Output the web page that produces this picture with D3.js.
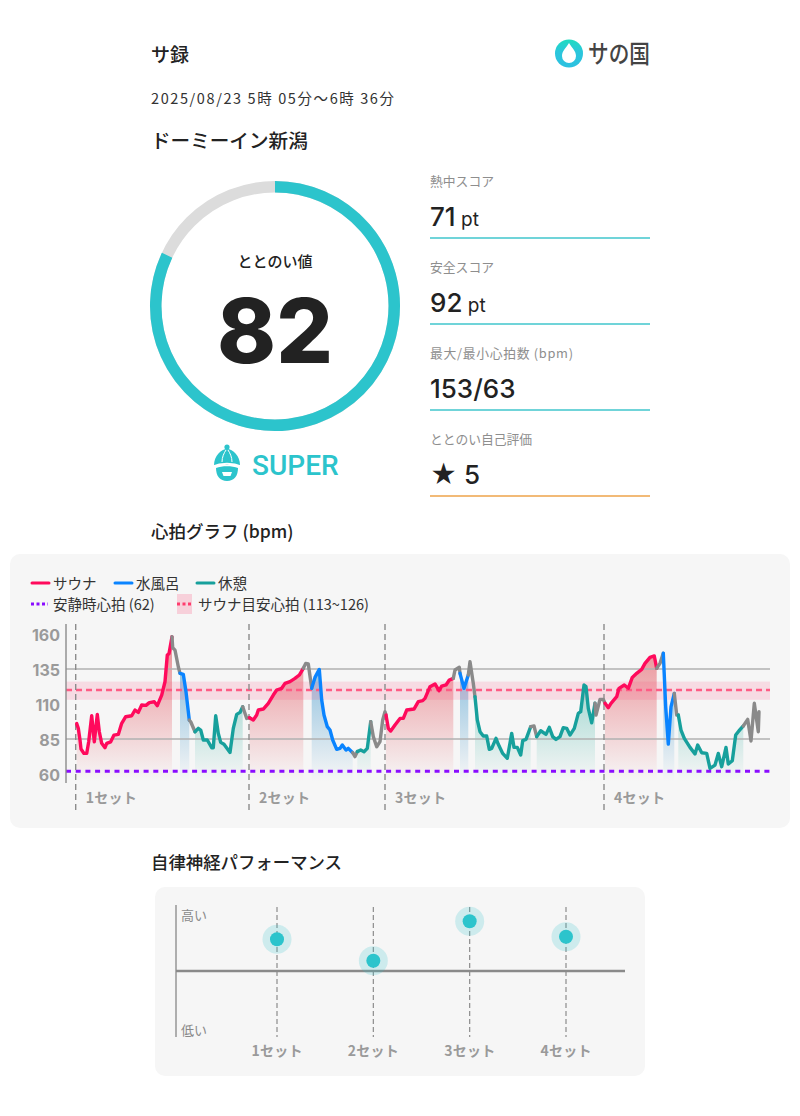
<!DOCTYPE html>
<html lang="ja">
<head>
<meta charset="utf-8">
<title>サ録</title>
<script src="https://cdn.jsdelivr.net/npm/d3@7/dist/d3.min.js"></script>
<style>
  html, body { margin: 0; padding: 0; background: #fff; }
  svg { display: block; }
  text { font-family: "Noto Sans CJK JP", "Noto Sans", sans-serif; }
</style>
</head>
<body>
<svg id="card" width="800" height="1116"></svg>
<script>
// Session summary
const ringScore = 82;
const scoreRows = [
  { label: "熱中スコア", value: "71", unit: " pt", labelWidth: 64 },
  { label: "安全スコア", value: "92", unit: " pt", labelWidth: 64 },
  { label: "最大/最小心拍数 (bpm)", value: "153/63", unit: "", labelWidth: 143 },
  { label: "ととのい自己評価", value: "★ 5", unit: "", labelWidth: 102 }
];

// Heart-rate trace: elapsed ticks and the bpm read at each tick
const heartTicks = [
  10.7,12.3,14,15,18,20.7,22.7,25.7,28.3,31.3,33.3,35.7,39,40.7,44.7,48,52.3,55.7,59.7,65.7,69,72.3,75.7,80,83.3,88.3,91.3,95.7,99,101.3,103,106,
  106.7,109,112.3,114,117.3,120,123.3,124.7,129,132.3,134.7,137.3,141.3,145.7,147.3,149.7,152.3,154.7,158,164,167.3,170.7,174,176.7,180.7,
  183.5,187.3,190.7,192.3,197.3,202.3,207.3,210.7,215.7,219,224,229,233.3,237.3,239.7,242.3,245.7,249,253.3,255.7,258,261.3,264,266.7,270.7,274,276.3,280,282.3,286.7,289,291.3,294.7,298,301.3,304.7,307.3,310.7,314,316.7,319,
  320,322.3,324.7,329,334,337.3,340.7,348,352.3,356.7,359,364,369,373,375.7,380,383.3,387.3,389,393.3,394,398,402.3,404,407.3,409,411.3,414,417.3,420.7,423.3,425.7,430,432.3,436.7,441.3,445.7,448,451.3,454.7,456.7,460,464.7,468,470.7,474.7,480,483.3,486.7,490,494,497.3,500.7,504,508.3,512.3,514.7,518,520,522.3,525.7,529,530,534,537.3,
  539,542.3,545,550.7,553,558.3,562.3,566.3,570.7,575.7,579,584,588.3,590.7,594,597.3,599.7,602.3,605,608.3,610.7,612.3,615,618.3,624,629,631.7,635.7,640.7,644,649,652.3,655.7,660,662.3,666.3,669.7,673,677.3,681.7,685,688.3,692.3,693
];
const heartBpm = [
  96,92.6,84.3,77.8,74.7,74.7,83,101.6,83,102.6,90.2,81.9,78.8,81.9,83,87.8,88.3,96.2,100.9,101.6,105.7,104,109.3,109,111,111.6,108.8,116.4,125.9,145,146,158,
  150.2,148.5,136.6,131.9,131.2,118.8,98.5,97.3,90.2,92.6,91.4,84.3,84.3,78.8,78.8,101.6,89,82.6,81.2,75.4,92.6,102.6,104,108,99.7,
  100.2,98.6,102.1,105.7,106.4,110.5,116.4,120,121.2,124.7,126,128.3,130.7,135.5,139,138.6,121.2,129,134.7,112.8,102.1,93.8,91.4,84.3,77.6,78.3,80.7,77.1,78.3,75.2,72.4,76,77.1,75.9,78.3,97.4,86.7,79.5,83.1,98.6,104.5,
  102.1,92.6,90.7,95,99.7,99.7,105.7,106.4,111.7,112.4,114,122.4,124.3,119.5,122.8,123.6,127.1,128.3,134.3,136.2,131.9,121.2,130.7,140.2,124.7,115.2,98.6,90.2,87.1,87.1,77.6,78.3,85.5,81.2,74.7,71.2,89,79,79,73.6,83.8,84.7,93.8,94.3,86.7,90.9,88.3,93.3,86.7,84.7,86.7,93.1,92.6,87.8,92.6,103.3,104.5,123.6,122.4,106.9,96.6,110.5,102.1,113.3,113.3,
  110.5,107.4,110.5,115.2,121.2,123.6,121.2,129,131.9,134.7,139,143.3,144.3,135.5,139,146.2,108,81.4,108,117.6,102.1,102.1,91.4,85.5,79,74.3,80.7,75.2,74.7,64,66.4,74.7,65.2,79,67.1,69.5,87.8,90.9,94.3,99,83.6,110.5,90.2,104.5
];

// Phase changes along the trace: the tick where each phase begins
const phaseTicks = [10.7,106,114,123.3,129,176.7,183.5,237.3,245.7,286.7,291.3,304.7,320,387.3,394,402.3,409,464.7,470.7,529,539,590.7,597.3,608.3,612.3,677.3];
const phaseNames = ["sauna","idle","water","idle","rest","idle","sauna","idle","water","idle","rest","idle","sauna","idle","water","idle","rest","idle","rest","idle","sauna","idle","water","idle","rest","idle"];
const setTicks = [9.7, 183, 319, 538];
const setNames = ["1セット", "2セット", "3セット", "4セット"];
const bpmTicks = [160, 135, 110, 85, 60];
const gridBpm = [135, 85];
const restingBpm = 62;
const targetLow = 113;
const targetHigh = 126;
const target = 120;

// Autonomic performance per set
const performance = [53, 17, 83, 57];

const phaseColor = { sauna: "#ff0a5c", water: "#0a84ff", rest: "#17a09c", idle: "#8a8a8a" };
const phaseFill = { sauna: "#e2444f", water: "#1f86c4", rest: "#27ab9a" };
const teal = "#2cc4cc";
const grayText = "#8e8e8e";
const ink = "#222";

const svg = d3.select("#card");
const defs = svg.append("defs");

function label(parent, x, y, str, size, weight, fill, anchor) {
  return parent.append("text")
    .attr("x", x).attr("y", y)
    .attr("dy", "0.4em")
    .attr("font-size", size)
    .attr("font-weight", weight || 400)
    .attr("fill", fill || ink)
    .attr("text-anchor", anchor || "start")
    .text(str);
}

// Header
label(svg, 151, 54, "サ録", 19, 500);
label(svg, 151, 98, "2025/08/23 5時 05分〜6時 36分", 14.5, 400, "#333").attr("textLength", 243);
label(svg, 151, 140, "ドーミーイン新潟", 19.6, 500);

// Brand mark
const brandGrad = defs.append("linearGradient").attr("id", "brand").attr("x1", 0.5).attr("y1", 0).attr("x2", 0.5).attr("y2", 1);
brandGrad.append("stop").attr("offset", 0).attr("stop-color", "#1edcc0");
brandGrad.append("stop").attr("offset", 0.45).attr("stop-color", "#2bc6dc");
brandGrad.append("stop").attr("offset", 1).attr("stop-color", "#2cc0e0");
svg.append("circle").attr("cx", 569).attr("cy", 53.5).attr("r", 14).attr("fill", "url(#brand)");
svg.append("path").attr("d", "M569 43 C572 48 576 51 576 56 A7 7 0 0 1 562 56 C562 51 566 48 569 43 Z").attr("fill", "#fff");
label(svg, 588, 53, "サの国", 25, 500, "#444").attr("textLength", 62).attr("lengthAdjust", "spacingAndGlyphs");

// Score ring: centre-line arcs with round caps
const ring = svg.append("g").attr("transform", "translate(275,306)");
const ringScale = d3.scaleLinear().domain([0, 100]).range([0, 2 * Math.PI]);
const ringArc = d3.arc().innerRadius(119.25).outerRadius(119.25);
ring.append("path").attr("d", ringArc({ startAngle: 0, endAngle: 2 * Math.PI }))
  .attr("fill", "none").attr("stroke", "#dcdcdc").attr("stroke-width", 11.5);
ring.append("path").attr("d", ringArc({ startAngle: ringScale(0), endAngle: ringScale(ringScore) }))
  .attr("fill", "none").attr("stroke", teal).attr("stroke-width", 11.5).attr("stroke-linecap", "round");
label(ring, 0, -45, "ととのい値", 15, 500, ink, "middle");
label(ring, 0, 21, String(ringScore), 89, 800, ink, "middle").style("font-family", "Inter, sans-serif");

// Rank badge: hat with a face beneath the brim
const badge = svg.append("g").attr("transform", "translate(227,464)").attr("fill", teal);
badge.append("circle").attr("cx", 0).attr("cy", -17).attr("r", 2.6);
badge.append("path").attr("d", "M-13 1 C-13 -8 -6 -15 0 -15 C6 -15 13 -8 13 1 Z");
badge.append("path").attr("d", "M-5 -2 C-5 -7 -3 -11 -1 -14 M5 -2 C5 -7 3 -11 1 -14").attr("fill", "none").attr("stroke", "#fff").attr("stroke-width", 1);
badge.append("path").attr("d", "M-15.5 3 Q0 -3.5 15.5 3").attr("fill", "none").attr("stroke", "#fff").attr("stroke-width", 2);
badge.append("path").attr("d", "M-11 4 C-5 1.5 5 1.5 11 4 C11 12 7 17 0 17 C-7 17 -11 12 -11 4 Z");
badge.append("path").attr("d", "M-5 8 L5 8 L3.5 12 L-3.5 12 Z").attr("fill", "#fff");
label(svg, 252, 464, "SUPER", 28, 500, teal).style("font-family", "Roboto, sans-serif");

// Score column
const rowY = d3.scalePoint().domain(d3.range(scoreRows.length)).range([181, 439]);
scoreRows.forEach((row, i) => {
  const y = rowY(i);
  label(svg, 430, y, row.label, 12.8, 400, grayText).attr("textLength", row.labelWidth);
  const value = label(svg, 430, y + 35, row.value, 26, 500, ink).style("font-family", "Inter, 'Noto Sans CJK JP', sans-serif");
  if (row.unit) value.append("tspan").attr("font-size", 19).attr("font-weight", 400).text(row.unit);
  svg.append("line").attr("x1", 430).attr("x2", 650).attr("y1", y + 57).attr("y2", y + 57)
    .attr("stroke", i === 3 ? "#eea34a" : "#41c6cc").attr("stroke-width", 1.6);
});

// Heart-rate panel
label(svg, 151, 531, "心拍グラフ (bpm)", 17.5, 500);
svg.append("rect").attr("x", 10).attr("y", 554).attr("width", 780).attr("height", 274).attr("rx", 10).attr("fill", "#f6f6f6");

const swatch = (x, y, color, dash, w) => svg.append("line")
  .attr("x1", x).attr("x2", x + (w || 17)).attr("y1", y).attr("y2", y)
  .attr("stroke", color).attr("stroke-width", 3)
  .attr("stroke-linecap", dash ? "butt" : "round")
  .attr("stroke-dasharray", dash || null);
swatch(32, 583, phaseColor.sauna);
label(svg, 53, 583, "サウナ", 14.5, 400, "#333");
swatch(115, 583, phaseColor.water);
label(svg, 136, 583, "水風呂", 14.5, 400, "#333");
swatch(197, 583, phaseColor.rest);
label(svg, 218, 583, "休憩", 14.5, 400, "#333");
swatch(31, 604, "#8a0cff", "3 2.5");
label(svg, 53, 604, "安静時心拍 (62)", 14.5, 400, "#333");
svg.append("rect").attr("x", 177).attr("y", 594).attr("width", 15).attr("height", 20).attr("fill", "#ff3c6e").attr("opacity", 0.2);
swatch(177, 604, "#ff3c6e", "3 2.5", 15);
label(svg, 198, 604, "サウナ目安心拍 (113~126)", 14.5, 400, "#333");

const x = d3.scaleLinear().domain([0, 704]).range([66, 770]);
const y = d3.scaleLinear().domain([60, 160]).range([774, 634]);
const trace = heartTicks.map((t, i) => ({ t, bpm: heartBpm[i] }));

// Split the trace into phase runs sharing their boundary samples
const runs = phaseTicks.map((start, i) => {
  const end = i + 1 < phaseTicks.length ? phaseTicks[i + 1] : Infinity;
  return { phase: phaseNames[i], points: trace.filter(d => d.t >= start && d.t <= end) };
});

const plot = svg.append("g");

// Vertical gradients that fade each phase area out below the resting line
Object.entries(phaseFill).forEach(([phase, color]) => {
  const g = defs.append("linearGradient").attr("id", "fade-" + phase)
    .attr("gradientUnits", "userSpaceOnUse").attr("x1", 0).attr("x2", 0)
    .attr("y1", y(150)).attr("y2", y(55));
  g.append("stop").attr("offset", 0).attr("stop-color", color).attr("stop-opacity", 0.55);
  g.append("stop").attr("offset", 0.35).attr("stop-color", color).attr("stop-opacity", 0.36);
  g.append("stop").attr("offset", 1).attr("stop-color", color).attr("stop-opacity", 0);
});

const area = d3.area().x(d => x(d.t)).y0(y(55)).y1(d => y(d.bpm));
plot.selectAll("path.fill").data(runs.filter(r => r.phase !== "idle")).join("path")
  .attr("class", "fill")
  .attr("d", r => area(r.points))
  .attr("fill", r => `url(#fade-${r.phase})`);

// Target band, grid lines and reference lines
plot.append("rect")
  .attr("x", x(0)).attr("width", x(704) - x(0))
  .attr("y", y(targetHigh)).attr("height", y(targetLow) - y(targetHigh))
  .attr("fill", "#ff3c6e").attr("opacity", 0.14);
plot.selectAll("line.grid").data(gridBpm).join("line")
  .attr("class", "grid")
  .attr("x1", x(0)).attr("x2", x(704))
  .attr("y1", d => y(d)).attr("y2", d => y(d))
  .attr("stroke", "#b0b0b0").attr("stroke-width", 1.4);
plot.append("line")
  .attr("x1", x(0)).attr("x2", x(704)).attr("y1", y(target)).attr("y2", y(target))
  .attr("stroke", "#ff5c85").attr("stroke-width", 2.5).attr("stroke-dasharray", "6 4");
plot.append("line")
  .attr("x1", x(0)).attr("x2", x(704)).attr("y1", y(restingBpm)).attr("y2", y(restingBpm))
  .attr("stroke", "#8a0cff").attr("stroke-width", 3).attr("stroke-dasharray", "5 4.7");

// Set markers
plot.selectAll("line.set").data(setTicks).join("line")
  .attr("class", "set")
  .attr("x1", d => x(d)).attr("x2", d => x(d)).attr("y1", 624).attr("y2", 810)
  .attr("stroke", "#8c8c8c").attr("stroke-width", 1.4).attr("stroke-dasharray", "6 4");
setTicks.forEach((t, i) => {
  const tx = x(t);
  label(plot, tx + 10, 797, setNames[i], 14, 700, "#9a9a9a").attr("textLength", 51);
});

// Phase-coloured line
const line = d3.line().x(d => x(d.t)).y(d => y(d.bpm)).curve(d3.curveLinear);
plot.selectAll("path.run").data(runs).join("path")
  .attr("class", "run")
  .attr("d", r => line(r.points))
  .attr("fill", "none")
  .attr("stroke", r => phaseColor[r.phase])
  .attr("stroke-width", 3.4)
  .attr("stroke-linejoin", "round")
  .attr("stroke-linecap", "round");

// bpm axis
const yAxis = svg.append("g").attr("transform", `translate(${x(0)},0)`)
  .call(d3.axisLeft(y).tickValues(bpmTicks).tickSize(0).tickPadding(6));
yAxis.select(".domain").remove();
yAxis.selectAll("text").attr("font-size", 16).attr("font-weight", 700).attr("fill", "#9a9a9a")
  .attr("dy", "0.38em").style("font-family", "Inter, sans-serif");
svg.append("line").attr("x1", x(0)).attr("x2", x(0)).attr("y1", 624).attr("y2", 783)
  .attr("stroke", "#8c8c8c").attr("stroke-width", 1.4);

// Autonomic performance panel
label(svg, 151, 862, "自律神経パフォーマンス", 17.4, 500);
svg.append("rect").attr("x", 155).attr("y", 887).attr("width", 490).attr("height", 189).attr("rx", 10).attr("fill", "#f6f6f6");

const px = d3.scalePoint().domain(setNames).range([277, 566]);
const py = d3.scaleLinear().domain([-100, 100]).range([1031, 911]);

svg.append("line").attr("x1", 176).attr("x2", 176).attr("y1", 905).attr("y2", 1037)
  .attr("stroke", "#909090").attr("stroke-width", 1.4);
svg.selectAll("line.perf").data(setNames).join("line")
  .attr("class", "perf")
  .attr("x1", d => px(d)).attr("x2", d => px(d)).attr("y1", 907).attr("y2", 1037)
  .attr("stroke", "#8c8c8c").attr("stroke-width", 1.2).attr("stroke-dasharray", "5 3");
svg.append("line").attr("x1", 176).attr("x2", 625).attr("y1", py(0)).attr("y2", py(0))
  .attr("stroke", "#8a8a8a").attr("stroke-width", 2.6);
label(svg, 181, 915, "高い", 13, 400, "#8a8a8a");
label(svg, 181, 1030, "低い", 13, 400, "#8a8a8a");

const pointGroups = svg.selectAll("g.perf-point").data(setNames).join("g")
  .attr("class", "perf-point")
  .attr("transform", (d, i) => `translate(${px(d)},${py(performance[i])})`);
pointGroups.append("circle").attr("r", 14.5).attr("fill", teal).attr("opacity", 0.2);
pointGroups.append("circle").attr("r", 7).attr("fill", teal);
pointGroups.append("text")
  .attr("x", 0)
  .attr("y", (d, i) => 1050 - py(performance[i]))
  .attr("dy", "0.4em")
  .attr("text-anchor", "middle")
  .attr("font-size", 14).attr("font-weight", 700).attr("fill", "#9a9a9a")
  .attr("textLength", 51)
  .text(d => d);
</script>
</body>
</html>
